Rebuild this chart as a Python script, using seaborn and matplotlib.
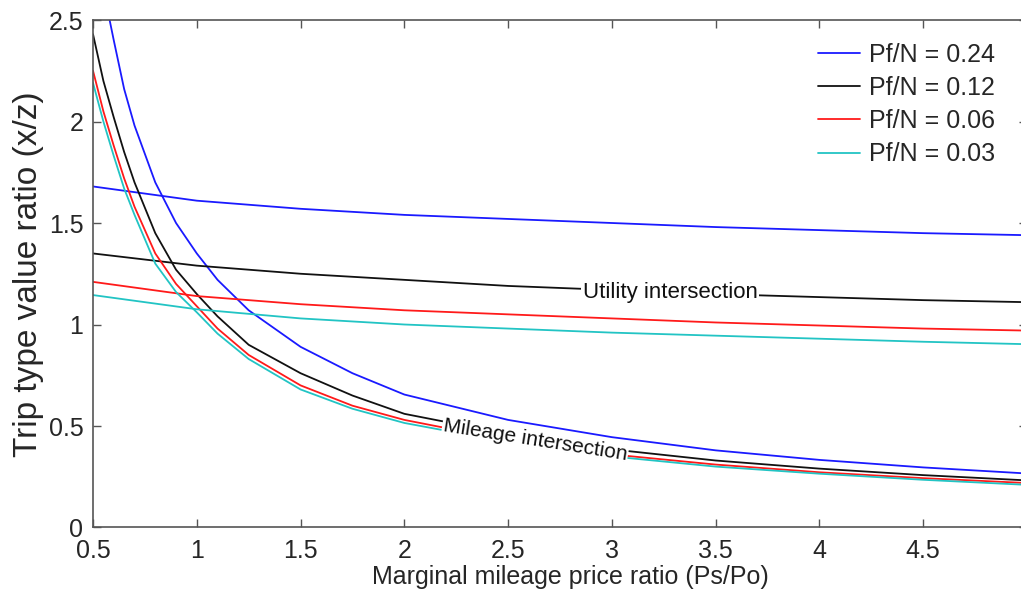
import numpy as np
import pandas as pd
import matplotlib
matplotlib.use("Agg")
import matplotlib.pyplot as plt
import seaborn as sns

# ---- data ----
series_labels = ["Pf/N = 0.24", "Pf/N = 0.12", "Pf/N = 0.06", "Pf/N = 0.03"]
series_colors = ["#1a1aff", "#111111", "#ff1a1a", "#22c4c4"]

x_util = [0.5, 1.0, 1.5, 2.0, 2.5, 3.0, 3.5, 4.0, 4.5, 5.0]
util_024 = [1.68, 1.61, 1.57, 1.54, 1.52, 1.50, 1.48, 1.465, 1.45, 1.44]
util_012 = [1.35, 1.29, 1.25, 1.22, 1.19, 1.17, 1.15, 1.135, 1.12, 1.11]
util_006 = [1.21, 1.14, 1.10, 1.07, 1.05, 1.03, 1.01, 0.995, 0.98, 0.97]
util_003 = [1.145, 1.075, 1.03, 1.00, 0.98, 0.96, 0.945, 0.93, 0.915, 0.903]

x_mile = [0.5, 0.55, 0.6, 0.65, 0.7, 0.8, 0.9, 1.0, 1.1, 1.25, 1.5, 1.75,
          2.0, 2.5, 3.0, 3.5, 4.0, 4.5, 5.0]
mile_024 = [2.92, 2.65, 2.40, 2.16, 1.98, 1.70, 1.50, 1.35, 1.22, 1.07, 0.89,
            0.76, 0.655, 0.53, 0.445, 0.38, 0.333, 0.296, 0.266]
mile_012 = [2.43, 2.20, 2.02, 1.85, 1.70, 1.45, 1.27, 1.15, 1.04, 0.90, 0.76,
            0.65, 0.56, 0.46, 0.385, 0.33, 0.29, 0.258, 0.232]
mile_006 = [2.25, 2.05, 1.88, 1.72, 1.58, 1.35, 1.20, 1.09, 0.98, 0.85, 0.70,
            0.60, 0.53, 0.43, 0.36, 0.31, 0.272, 0.243, 0.219]
mile_003 = [2.19, 2.00, 1.83, 1.67, 1.54, 1.30, 1.16, 1.06, 0.955, 0.83, 0.68,
            0.585, 0.515, 0.42, 0.35, 0.30, 0.265, 0.235, 0.21]

util_all = [util_024, util_012, util_006, util_003]
mile_all = [mile_024, mile_012, mile_006, mile_003]

rows = []
for lab, u, m in zip(series_labels, util_all, mile_all):
    for xv, yv in zip(x_util, u):
        rows.append({"x": xv, "y": yv, "series": lab, "curve": "utility"})
    for xv, yv in zip(x_mile, m):
        rows.append({"x": xv, "y": yv, "series": lab, "curve": "mileage"})
df = pd.DataFrame(rows)

# ---- style ----
sns.set_style("ticks")
plt.rcParams["font.family"] = ["Liberation Sans", "DejaVu Sans"]
plt.rcParams["xtick.direction"] = "in"
plt.rcParams["ytick.direction"] = "in"

fig = plt.figure(figsize=(10.21, 6.01), dpi=100)
# axes extends slightly past the right edge of the image (as in the reference)
ax = fig.add_axes([0.0911, 0.1223, 0.9148, 0.8444])

palette = dict(zip(series_labels, series_colors))
sns.lineplot(data=df, x="x", y="y", hue="series", units="curve",
             estimator=None, palette=palette, hue_order=series_labels,
             linewidth=1.3, ax=ax, legend=False, sort=True)

ax.set_xlim(0.5, 5.0)
ax.set_ylim(0, 2.5)
ax.set_xticks([0.5, 1, 1.5, 2, 2.5, 3, 3.5, 4, 4.5])
ax.set_xticklabels(["0.5", "1", "1.5", "2", "2.5", "3", "3.5", "4", "4.5"])
ax.set_yticks([0, 0.5, 1, 1.5, 2, 2.5])
ax.set_yticklabels(["0", "0.5", "1", "1.5", "2", "2.5"])
ax.tick_params(axis="both", labelsize=18, length=6, width=1, color="#555555",
               top=True, right=True)
ax.tick_params(axis="x", pad=8.5)
ax.tick_params(axis="y", pad=7)
for s in ax.spines.values():
    s.set_color("#555555")
    s.set_linewidth(1.2)

ax.set_xlabel("Marginal mileage price ratio (Ps/Po)", fontsize=18)
ax.xaxis.set_label_coords(0.5107, -0.074)
ax.set_ylabel("Trip type value ratio (x/z)", fontsize=24, labelpad=3)

ax.text(3.28, 1.16, "Utility intersection", fontsize=16, ha="center",
        va="center", color="#111111",
        bbox=dict(boxstyle="square,pad=0.08", fc="white", ec="none"))
ax.text(2.63, 0.43, "Mileage intersection", fontsize=15, ha="center",
        va="center", rotation=-9, color="#111111",
        bbox=dict(boxstyle="square,pad=0.05", fc="white", ec="none"))

handles = [plt.Line2D([], [], color=c, lw=1.3) for c in series_colors]
ax.legend(handles, series_labels, loc="upper right", frameon=False,
          fontsize=18, handlelength=1.7, handletextpad=0.35, labelspacing=0.37,
          bbox_to_anchor=(0.99, 1.0))

fig.savefig("out.png", dpi=100)
